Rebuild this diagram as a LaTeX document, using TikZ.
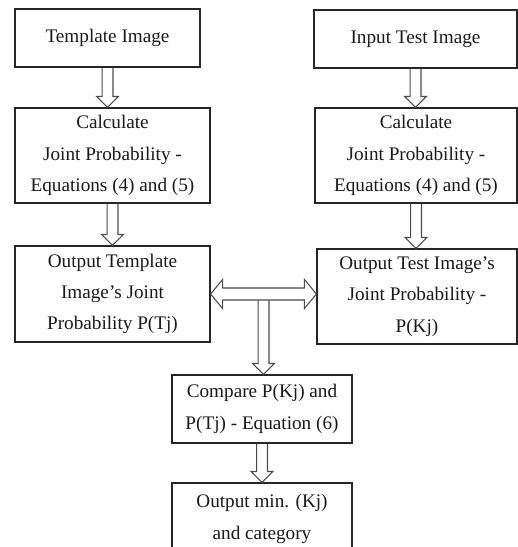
\documentclass[tikz,border=0pt]{standalone}
\usepackage{fontspec}
\setmainfont{Liberation Serif}
\usetikzlibrary{calc}

% hollow block arrows between named nodes
\newcommand{\blkdown}[2]{%
  \draw[blk] let \p1=(#1), \p2=(#2) in
    (\x1-4.1pt,\y1) -- (\x1-4.1pt,\y2+8.2pt) -- (\x1-8.2pt,\y2+8.2pt) -- (\x1,\y2)
    -- (\x1+8.2pt,\y2+8.2pt) -- (\x1+4.1pt,\y2+8.2pt) -- (\x1+4.1pt,\y1);}
\newcommand{\blkboth}[2]{%
  \draw[blk] let \p1=(#1), \p2=(#2) in
    (\x1,\y1) -- (\x1+9pt,\y1-10.9pt) -- (\x1+9pt,\y1-4.5pt) -- (\x2-9pt,\y1-4.5pt)
    -- (\x2-9pt,\y1-10.9pt) -- (\x2,\y1) -- (\x2-9pt,\y1+10.9pt) -- (\x2-9pt,\y1+4.5pt)
    -- (\x1+9pt,\y1+4.5pt) -- (\x1+9pt,\y1+10.9pt) -- cycle;}

\begin{document}
\begin{tikzpicture}[
    x=0.75pt, y=-0.75pt,
    box/.style={draw=black!85, line width=0.9pt, align=center, inner sep=2pt,
        font=\fontsize{14.4pt}{23.5pt}\selectfont, text=black!90},
    blk/.style={draw=black!70, line width=0.8pt, line join=miter}
]
\clip (0,0) rectangle (518,547);

% Template side
\node[box, minimum width=138.75pt, minimum height=43.5pt] (tmpl) at (107.5,38) {Template Image};
\node[box, minimum width=146.25pt, minimum height=71.25pt] (calcT) at (112.5,155.5) {Calculate\\Joint Probability -\\Equations (4) and (5)};
\node[box, minimum width=146.25pt, minimum height=72pt] (outT) at (112.5,294) {Output Template\\Image’s Joint\\Probability P(Tj)};

% Test side
\node[box, minimum width=152.25pt, minimum height=43.5pt] (input) at (415.5,39) {Input Test Image};
\node[box, minimum width=151.5pt, minimum height=71.25pt] (calcK) at (416,155.5) {Calculate\\Joint Probability -\\Equations (4) and (5)};
\node[box, minimum width=150pt, minimum height=71.25pt] (outK) at (417,296.5) {Output Test Image’s\\Joint Probability -\\P(Kj)};

% Comparison
\node[box, minimum width=135pt, minimum height=51pt] (comp) at (262,409) {Compare P(Kj) and\\P(Tj) - Equation (6)};
\node[box, minimum width=135pt, minimum height=54pt] (final) at (262,519) {Output min. (Kj)\\and category};

% Block arrows
\blkdown{tmpl.south}{calcT.north}
\blkdown{calcT.south}{outT.north}
\blkdown{input.south}{calcK.north}
\blkdown{calcK.south}{outK.north}
\blkboth{outT.east}{outK.west}
\coordinate (mid) at ($(outT.east)!0.5!(outK.west |- outT.east)$);
\blkdown{$(mid)+(0pt,-4.5pt)$}{comp.north}
\blkdown{comp.south}{final.north}

\end{tikzpicture}
\end{document}
